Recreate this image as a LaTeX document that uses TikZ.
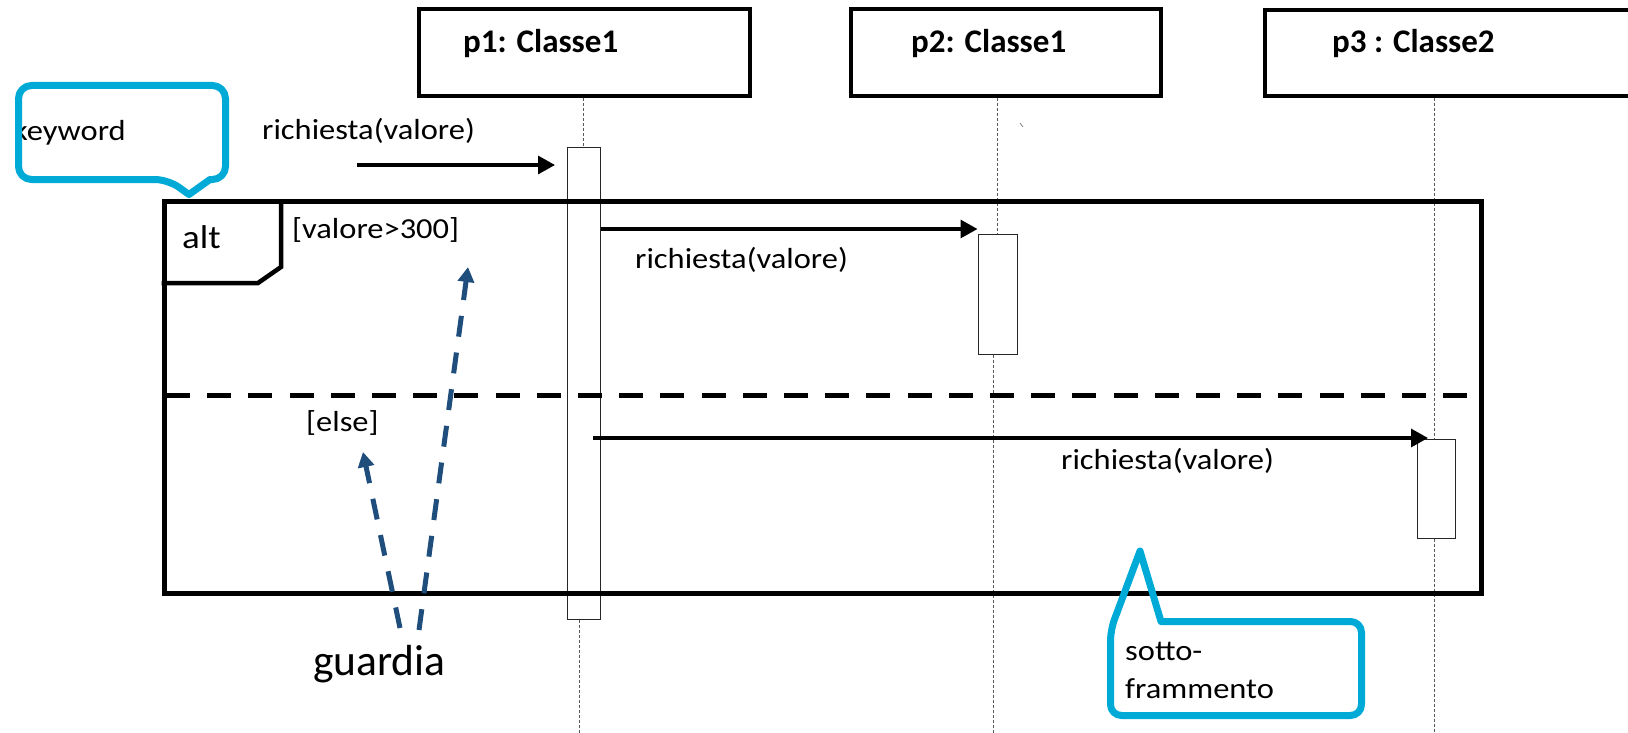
\documentclass[tikz,border=0pt]{standalone}
\usepackage{fontspec}
\setmainfont{Carlito}
\newfontfamily\regf[FakeStretch=1.12]{Carlito}
\usetikzlibrary{arrows.meta}
\definecolor{cyanc}{RGB}{0,170,214}
\definecolor{guardc}{RGB}{31,78,125}
\begin{document}
\begin{tikzpicture}[x=1pt,y=-1pt,
 objbox/.style={draw, line width=4pt, fill=white, inner sep=0pt},
 actbox/.style={draw=black!85, line width=1pt, fill=white, inner sep=0pt},
 lifel/.style={draw=gray!70!black, line width=0.8pt, dash pattern=on 3pt off 2pt},
 msg/.style={line width=3.2pt, -{Triangle[length=17pt,width=18pt]}},
 txt/.style={font=\regf\fontsize{29}{34}\selectfont, inner sep=0pt, anchor=base west},
 ttl/.style={font=\bfseries\fontsize{33}{38}\selectfont, inner sep=0pt, anchor=base west},
 guardarrow/.style={draw=guardc, line width=5pt, dash pattern=on 21pt off 16pt, -{Triangle[length=15pt,width=16pt,fill=guardc]}},
 callb/.style={draw=cyanc, line width=7pt, line join=round},
 framel/.style={draw, line width=5pt, inner sep=0pt},
]
\useasboundingbox (0,0) rectangle (1628,733);
\clip (0,0) rectangle (1628,733);

% objects
\node[objbox, minimum width=331pt, minimum height=87pt] (o1) at (584.5,52.5) {};
\node[ttl] (t1) at (463,53) {p1: Classe1};
\node[objbox, minimum width=310pt, minimum height=87pt] (o2) at (1006,52.5) {};
\node[ttl] (t2) at (911,53) {p2: Classe1};
\node[objbox, minimum width=380pt, minimum height=86pt] (o3) at (1455,53) {};
\node[ttl] (t3) at (1332,53) {p3 : Classe2};

% activations
\node[actbox, minimum width=33pt, minimum height=471pt] (a1) at (583.5,383.5) {};
\node[actbox, minimum width=39pt, minimum height=120pt] (a2) at (997.5,294) {};
\node[actbox, minimum width=38pt, minimum height=99pt] (a3) at (1436,488.5) {};

% lifelines
\coordinate (bot) at (0,733);
\draw[lifel] (a1.north |- o1.south) -- (a1.north);
\draw[lifel] ([xshift=-4pt]a1.south) -- ([xshift=-4pt]a1.south |- bot);
\draw[lifel] (a2.north |- o2.south) -- (a2.north);
\draw[lifel] ([xshift=-4pt]a2.south) -- ([xshift=-4pt]a2.south |- bot);
\draw[lifel] ([xshift=-2pt]a3.north |- o3.south) -- ([xshift=-2pt]a3.north);
\draw[lifel] ([xshift=-2pt]a3.south) -- ([xshift=-2pt]a3.south |- bot);
\draw[gray, line width=0.8pt] (1020,123) -- (1023,127);

% combined fragment
\node[framel, minimum width=1317pt, minimum height=392pt] (frame) at (822.5,397) {};
\coordinate (tabA) at (281,201);
\coordinate (tabB) at (281,267);
\coordinate (tabC) at (258,283);
\draw[line width=4.5pt] (tabA) -- (tabB) -- (tabC) -- (frame.west |- tabC);
\coordinate (divL) at (166,395);
\coordinate (divR) at (1480,395);
\draw[line width=5pt, dash pattern=on 24pt off 17.2pt] (divL) -- (divR);
\node[txt, font=\regf\fontsize{33}{38}\selectfont] (alt) at (182,248) {alt};
\node[txt] (gv) at (292,238) {[valore>300]};
\node[txt] (ge) at (306,431) {[else]};

% messages
\coordinate (m1s) at (357,165);
\coordinate (m1e) at (555,165);
\draw[msg] (m1s) -- (m1e);
\node[txt] (l1) at (262,140) {richiesta(valore)};
\coordinate (m2y) at (0,229);
\draw[msg] (a1.east |- m2y) -- (a2.west |- m2y);
\node[txt] (l2) at (635,268) {richiesta(valore)};
\coordinate (m3s) at (593,438);
\coordinate (m3e) at (1428,438);
\draw[msg] (m3s) -- (m3e);
\node[txt] (l3) at (1061,469) {richiesta(valore)};

% callout keyword
\node[txt] (kw) at (13,141) {keyword};
\draw[callb] (189,194.5) -- (210,179.5) [rounded corners=13pt] -- (225.5,179.5) -- (225.5,85.5) -- (18.5,85.5) -- (18.5,179.5) -- (168,179.5) [sharp corners] -- cycle;

% callout sotto-frammento
\node[txt] (s1) at (1125,660) {sotto-};
\node[txt] (s2) at (1125,698) {frammento};
\draw[callb] (1140,551) -- (1161,621.5) [rounded corners=11pt] -- (1361.5,621.5) -- (1361.5,715.5) -- (1110.5,715.5) -- (1110.5,630) [sharp corners] -- cycle;

% guardia
\node[font=\fontsize{43.5}{50}\selectfont, inner sep=0pt, anchor=base west] (guardia) at (313,675) {guardia};
\coordinate (ga) at (400,628);
\coordinate (gta) at (363,452);
\coordinate (gb) at (419,630);
\coordinate (gtb) at (468,267);
\draw[guardarrow] (ga) -- (gta);
\draw[guardarrow] (gb) -- (gtb);
\end{tikzpicture}
\end{document}
